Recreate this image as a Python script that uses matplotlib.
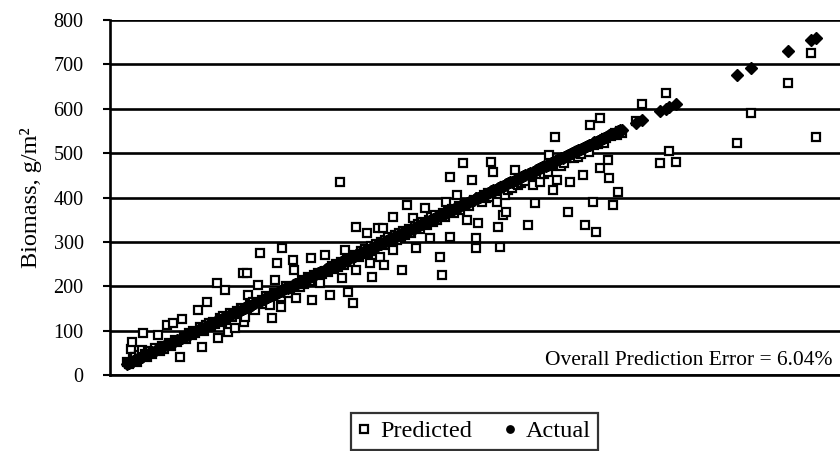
import matplotlib.pyplot as plt

# (actual, predicted) biomass pairs, g/m^2
actual = [
    25, 27, 29, 30, 32, 34, 36, 38, 41, 42, 44, 46, 48, 50, 52, 55, 58, 60, 62, 65,
    68, 70, 72, 74, 76, 79, 82, 84, 86, 88, 91, 94, 96, 98, 101, 103, 105, 107, 109, 111,
    113, 115, 117, 119, 121, 122, 124, 126, 128, 130, 131, 133, 135, 137, 140, 142, 144, 147, 149, 150,
    151, 153, 154, 156, 158, 160, 162, 165, 167, 169, 171, 173, 176, 178, 180, 182, 183, 185, 187, 189,
    190, 191, 193, 195, 197, 199, 202, 203, 204, 206, 208, 210, 212, 214, 216, 218, 220, 222, 223, 225,
    227, 229, 231, 233, 236, 238, 240, 242, 244, 246, 248, 250, 252, 254, 255, 257, 258, 260, 261, 263,
    266, 268, 270, 270, 273, 275, 277, 279, 281, 282, 284, 286, 287, 289, 291, 293, 295, 296, 298, 299,
    300, 302, 304, 306, 309, 309, 311, 313, 315, 317, 319, 320, 322, 324, 326, 328, 330, 332, 334, 336,
    338, 340, 343, 345, 347, 348, 350, 352, 354, 356, 359, 361, 362, 364, 366, 368, 370, 370, 372, 374,
    377, 379, 381, 384, 386, 388, 390, 393, 395, 398, 398, 400, 402, 404, 406, 408, 410, 412, 414, 416,
    418, 420, 421, 423, 424, 426, 428, 429, 430, 432, 434, 436, 439, 440, 442, 444, 446, 448, 450, 453,
    455, 458, 460, 462, 464, 466, 468, 470, 472, 474, 476, 478, 480, 482, 484, 486, 488, 490, 492, 494,
    496, 498, 500, 502, 504, 506, 508, 510, 512, 514, 516, 518, 519, 522, 524, 526, 528, 530, 530, 532,
    534, 536, 538, 540, 542, 544, 546, 548, 549, 551, 553,
    568, 575, 594, 600, 603, 611, 676, 691, 730, 755, 760,
]
predicted = [
    30, 24, 59, 74, 35, 40, 30, 45, 56, 95, 48, 40, 52, 55, 47, 60, 90, 55, 66, 58,
    113, 72, 65, 117, 80, 75, 41, 126, 88, 82, 95, 90, 100, 94, 146, 108, 63, 100, 112, 165,
    118, 108, 120, 116, 207, 83, 128, 120, 132, 192, 124, 97, 140, 130, 106, 145, 138, 150, 230, 119,
    131, 230, 180, 160, 150, 165, 146, 203, 275, 170, 160, 178, 168, 158, 128, 185, 214, 252, 180, 175,
    153, 286, 190, 200, 185, 195, 259, 237, 200, 174, 205, 198, 215, 205, 210, 220, 212, 264, 169, 225,
    218, 230, 207, 228, 270, 235, 232, 180, 245, 238, 250, 243, 435, 255, 219, 248, 282, 262, 187, 255,
    162, 270, 237, 334, 265, 280, 272, 285, 320, 275, 252, 290, 221, 280, 295, 331, 266, 300, 331, 248,
    305, 292, 310, 300, 356, 282, 315, 305, 320, 310, 237, 325, 315, 383, 330, 320, 354, 335, 286, 340,
    330, 345, 376, 338, 350, 309, 355, 345, 360, 350, 266, 225, 365, 355, 390, 370, 446, 311, 375, 365,
    406, 380, 372, 478, 388, 349, 380, 439, 395, 309, 286, 343, 400, 390, 405, 398, 410, 402, 480, 457,
    415, 390, 334, 288, 420, 361, 406, 425, 367, 418, 430, 422, 462, 435, 428, 440, 432, 445, 438, 338,
    450, 428, 388, 455, 448, 435, 460, 452, 465, 458, 496, 470, 417, 536, 439, 480, 472, 485, 478, 490,
    367, 435, 495, 488, 500, 492, 505, 498, 451, 338, 510, 503, 563, 390, 518, 322, 520, 579, 466, 528,
    522, 535, 485, 444, 538, 383, 545, 540, 412, 550, 545,
    572, 611, 478, 636, 505, 480, 523, 591, 658, 726, 537,
]

y_ticks = [0, 100, 200, 300, 400, 500, 600, 700, 800]

plt.rcParams['font.family'] = ['Liberation Serif', 'DejaVu Serif']

fig = plt.figure(figsize=(8.4, 4.51), dpi=100)
ax = fig.add_axes([110 / 840, 76 / 451, 730 / 840, 355 / 451])

ax.plot(actual, predicted, linestyle='none', marker='s', markersize=6.4,
        markerfacecolor='white', markeredgecolor='black', markeredgewidth=1.6,
        label='Predicted', zorder=3)
ax.plot(actual, actual, linestyle='none', marker='D', markersize=6.6,
        markerfacecolor='black', markeredgecolor='black', markeredgewidth=1.0,
        label='Actual', zorder=4)

ax.set_xlim(7, 786)
ax.set_ylim(0, 800)
ax.set_yticks(y_ticks)
ax.set_xticks([])
ax.yaxis.grid(True, color='black', linewidth=1.9)
ax.set_axisbelow(True)
for side in ['top', 'right']:
    ax.spines[side].set_visible(False)
ax.spines['left'].set_linewidth(1.9)
ax.spines['bottom'].set_linewidth(1.9)
ax.tick_params(axis='y', length=5, width=1.5, pad=14, labelsize=14.5)
ax.set_ylabel('Biomass, g/m²', fontsize=17.5, labelpad=8)

ax.text(0.990, 0.040, 'Overall Prediction Error = 6.04%', transform=ax.transAxes,
        ha='right', va='center', fontsize=15.5)

leg = fig.legend(loc='upper left', bbox_to_anchor=(351 / 840, 1 - 413 / 451), ncol=2,
                 frameon=True, fancybox=False, edgecolor='black', fontsize=17.5,
                 handlelength=0.5, handletextpad=0.4, columnspacing=1.3,
                 borderpad=0.3, borderaxespad=0, markerscale=0.8)
leg.get_frame().set_linewidth(1.6)
leg.legend_handles[1].set_marker('o')

fig.savefig('out.png', dpi=100)
